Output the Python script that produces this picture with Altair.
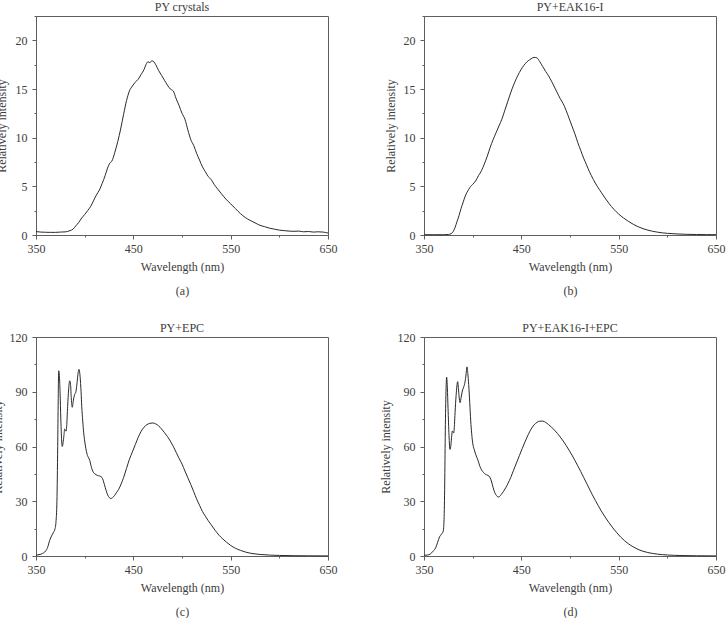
import altair as alt
import pandas as pd

FONT = "Liberation Serif"
TEXT = "#3c3c3c"
FRAME = "#5e5e5e"
LINE = "#2a2a2a"

# (a) PY crystals
wl_a = [350, 355, 360, 365, 370, 375, 380, 385, 388, 391, 394, 397, 400, 403, 406, 409,
        412, 415, 418, 421, 424, 426, 428, 431, 434, 437, 440, 443, 446, 449, 452, 455,
        458, 461, 463, 465, 467, 469, 471, 473, 476, 479, 482, 485, 488, 491, 494, 497,
        500, 503, 506, 509, 512, 515, 518, 521, 524, 527, 530, 533, 536, 540, 545, 550,
        555, 560, 565, 570, 575, 580, 585, 590, 595, 600, 605, 610, 615, 620, 625, 630,
        635, 640, 645, 650]
int_a = [0.35, 0.3, 0.28, 0.27, 0.27, 0.3, 0.32, 0.45, 0.6, 0.95, 1.3, 1.75, 2.1, 2.5, 2.9, 3.5,
         4.1, 4.6, 5.3, 6.1, 7.0, 7.4, 7.6, 8.5, 9.6, 10.9, 12.4, 13.8, 14.8, 15.3, 15.7, 16.0,
         16.5, 17.0, 17.5, 17.8, 17.7, 17.9, 17.8, 17.5, 16.9, 16.4, 15.9, 15.4, 15.0, 14.8, 14.0, 13.3,
         12.5, 11.9, 10.8, 9.8, 9.2, 8.4, 7.7, 7.0, 6.5, 6.0, 5.7, 5.2, 4.8, 4.3, 3.7, 3.2,
         2.7, 2.2, 1.8, 1.5, 1.25, 1.0, 0.85, 0.7, 0.6, 0.5, 0.45, 0.4, 0.38, 0.4, 0.33, 0.36,
         0.3, 0.33, 0.3, 0.2]

# (b) PY+EAK16-I
wl_b = [350, 360, 370, 375, 378, 380, 382, 384, 386, 388, 390, 392, 394, 396, 398, 400,
        403, 406, 409, 412, 415, 418, 421, 424, 427, 430, 433, 436, 439, 442, 445, 448,
        451, 454, 457, 460, 463, 466, 469, 472, 475, 478, 481, 484, 487, 490, 493, 496,
        499, 502, 505, 508, 511, 514, 517, 520, 524, 528, 532, 536, 540, 545, 550, 555,
        560, 565, 570, 575, 580, 585, 590, 595, 600, 610, 620, 630, 640, 650]
int_b = [0.03, 0.03, 0.03, 0.05, 0.15, 0.35, 0.8, 1.4, 2.0, 2.7, 3.3, 3.9, 4.35, 4.7, 5.0, 5.2,
         5.55, 6.1, 6.6, 7.3, 8.1, 9.0, 9.8, 10.5, 11.2, 11.9, 12.8, 13.7, 14.6, 15.4, 16.1, 16.7,
         17.2, 17.6, 17.9, 18.1, 18.25, 18.2, 17.8, 17.3, 16.8, 16.35, 15.8, 15.2, 14.6, 14.0, 13.5, 12.8,
         12.0, 11.2, 10.4, 9.5, 8.7, 7.9, 7.2, 6.5, 5.7, 5.0, 4.4, 3.8, 3.25, 2.65, 2.15, 1.75,
         1.4, 1.1, 0.85, 0.65, 0.5, 0.38, 0.29, 0.22, 0.17, 0.11, 0.07, 0.05, 0.04, 0.03]

# (c) PY+EPC
wl_c = [350, 352, 355, 358, 360, 362, 364, 366, 368, 369.5, 370.5, 371.5, 372.3, 372.8, 373.3, 374,
        374.7, 375.5, 376.5, 377, 377.8, 378.7, 379.4, 380.2, 380.8, 381.5, 382.5, 383.5, 384.6, 385.5, 386.3, 387.3,
        388.3, 389.7, 391, 392.2, 393.3, 394.2, 395, 396.3, 397, 398, 399, 400, 401.2, 402.5, 404, 405.2,
        406.5, 407.6, 409, 410.5, 413, 415.5, 417.8, 419, 420.2, 422, 423.6, 425.3, 427, 428.7, 430.5, 433,
        435, 437.5, 440, 443, 446, 449, 452, 455, 458, 461, 464, 467, 470, 473, 476, 479,
        482, 485, 488, 491, 494, 497, 500, 503, 506, 509, 512, 515, 518, 521, 524, 527,
        530, 534, 538, 542, 546, 550, 555, 560, 565, 570, 575, 580, 590, 600, 615, 630, 650]
int_c = [0.5, 0.6, 1.0, 1.8, 2.8, 4.8, 8.5, 11.0, 13.0, 14.8, 18.5, 30, 60, 85, 101.5, 99,
         90, 75, 62, 60, 62, 66, 69.5, 69, 68.4, 71, 82, 91, 96, 94, 86, 81.5,
         85, 88.5, 90, 95, 100.5, 102.3, 100, 90, 82, 74, 67.5, 63, 59, 55.7, 53.8, 52.4,
         49.5, 47.5, 45.8, 45, 44.2, 43.8, 43, 41.5, 39.3, 36, 33.5, 32, 31.5, 32, 33, 35,
         36.6, 39.5, 43, 48, 53, 57, 61, 65, 68.3, 70.6, 72, 72.7, 72.9, 72.4, 71.3, 69.6,
         67.6, 65.5, 63, 60.1, 56.8, 53.5, 50.4, 46.6, 42.9, 39.2, 35.3, 31.3, 27.8, 24.4, 21.8, 19.3,
         17.1, 14.1, 11.4, 9.3, 7.4, 5.8, 4.2, 3.1, 2.2, 1.55, 1.15, 0.85, 0.5, 0.3, 0.16, 0.1, 0.05]

# (d) PY+EAK16-I+EPC
wl_d = [350, 352, 355, 358, 360, 362, 364, 366, 368, 369.8, 370.6, 371.3, 371.8, 372.5, 373.3, 374,
        374.7, 375.7, 376.7, 377.7, 378.5, 379.1, 380.5, 381.3, 381.9, 383, 384.6, 385.5, 386.3, 387, 388.2, 389.4,
        390.7, 391.8, 393, 394.2, 395, 395.9, 397, 398, 399, 400, 401.5, 403.1, 404.3, 405.5, 407, 408.3,
        410.3, 412.4, 414.5, 416.8, 418, 419.2, 421, 422.7, 424.4, 426.1, 427.8, 429.5, 431.8, 434, 436.5, 439.1,
        442, 445, 448, 451, 454, 457, 460, 463, 466, 469, 472, 475, 478, 481, 484, 487,
        490, 493, 496, 499, 502, 505, 508, 511, 514, 517, 520, 523, 526, 529, 532, 536,
        540, 544, 548, 552, 556, 560, 565, 570, 575, 580, 590, 600, 615, 630, 650]
int_d = [0.4, 0.45, 0.7, 1.8, 3.0, 4.5, 7.5, 10.5, 12.0, 13.7, 20, 40, 65, 88, 98, 92,
         81, 66, 58.4, 61, 66, 68.5, 67.4, 72, 78.5, 88, 95.5, 91, 86, 84, 87, 90.4,
         92.5, 94.4, 98.5, 103.6, 100, 94, 84, 74, 67, 62, 58.5, 55.7, 54, 52.4, 49.8, 48,
         46.3, 45.1, 44.4, 43.8, 42.8, 41.1, 37.6, 34.7, 33.2, 32.3, 32.7, 33.8, 35.5, 37.4, 40, 43,
         47, 51, 55, 59, 62.8, 66.4, 69.5, 71.8, 73.2, 73.9, 73.9, 73.2, 72, 70.6, 69, 67.2,
         65.2, 63, 60.6, 58, 55.3, 52.4, 49.4, 46.3, 43.1, 39.9, 36.7, 33.5, 30.5, 27.6, 24.8, 21.4,
         18.3, 15.4, 12.8, 10.4, 8.4, 6.7, 5.0, 3.6, 2.6, 1.9, 1.0, 0.55, 0.25, 0.12, 0.05]

Y_TITLE = "Relatively intensity"
X_TITLE = "Wavelength (nm)"


def panel(wl, vals, title, letter, ymax, ystep, title_x):
    df = pd.DataFrame({"wavelength": wl, "intensity": vals})
    half = ystep / 2
    n = int(round(ymax / half))
    yticks = [round(i * half, 3) for i in range(n + 1)]
    xticks = list(range(350, 651, 50))
    x_axis = alt.Axis(
        values=xticks,
        labelExpr="datum.value % 100 === 50 ? datum.label : ''",
        format="d",
        labelOverlap=False,
        labelFlush=False,
        tickSize={"condition": {"test": "datum.value % 100 === 0", "value": 2}, "value": 4},
        labelPadding=4.5,
        title=[X_TITLE, letter],
        titleLineHeight=24,
        titlePadding=7,
    )
    y_axis = alt.Axis(
        values=yticks,
        labelExpr=f"datum.value % {ystep} === 0 ? datum.label : ''",
        format="d",
        labelOverlap=False,
        labelFlush=False,
        tickSize={"condition": {"test": f"datum.value % {ystep} !== 0", "value": 2}, "value": 4},
        labelPadding=5,
        title=Y_TITLE,
        titleX=title_x,
        titleBaseline="middle",
    )
    return (
        alt.Chart(df)
        .mark_line(color=LINE, strokeWidth=1, interpolate="monotone")
        .encode(
            x=alt.X("wavelength:Q", scale=alt.Scale(domain=[350, 650], nice=False), axis=x_axis),
            y=alt.Y("intensity:Q", scale=alt.Scale(domain=[0, ymax], nice=False), axis=y_axis),
        )
        .properties(
            width=292,
            height=219,
            title=alt.TitleParams(title, font=FONT, fontSize=12, fontWeight="normal",
                                  color=TEXT, offset=-4),
        )
    )


pa = panel(wl_a, int_a, "PY crystals", "(a)", 22.5, 5, -35)
pb = panel(wl_b, int_b, "PY+EAK16-I", "(b)", 22.5, 5, -34)
pc = panel(wl_c, int_c, "PY+EPC", "(c)", 120, 30, -39)
pd_ = panel(wl_d, int_d, "PY+EAK16-I+EPC", "(d)", 120, 30, -39)

chart = (
    alt.concat(pa, pb, pc, pd_, columns=2, spacing={"row": 102, "column": 96}, bounds="flush")
    .properties(padding={"left": -10, "top": 0, "right": 0, "bottom": 0}, background="white")
    .configure_view(stroke=FRAME, strokeWidth=1)
    .configure_axis(
        labelFont=FONT, titleFont=FONT, labelFontSize=12, titleFontSize=12,
        labelColor=TEXT, titleColor=TEXT, titleFontWeight="normal",
        domainColor=FRAME, tickColor=FRAME, domainWidth=1, tickWidth=1, grid=False,
    )
)

chart.save("out.html", embed_options={"renderer": "svg", "actions": False})
